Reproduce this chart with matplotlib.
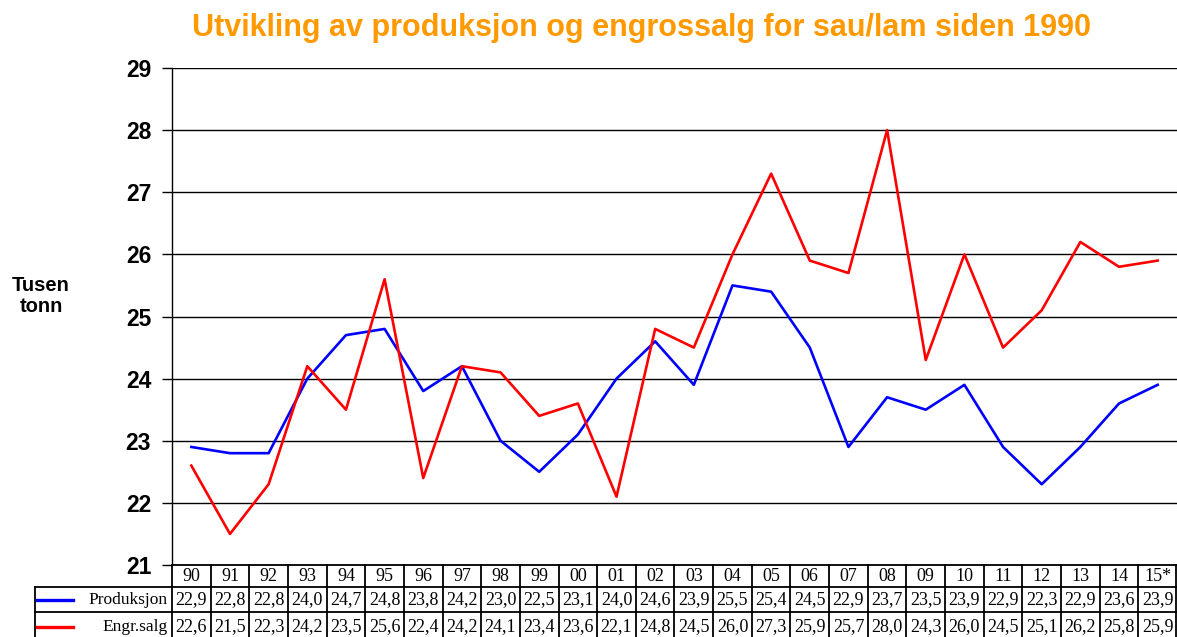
import numpy as np
import matplotlib.pyplot as plt
from matplotlib.lines import Line2D

years = ['90', '91', '92', '93', '94', '95', '96', '97', '98', '99', '00', '01', '02',
         '03', '04', '05', '06', '07', '08', '09', '10', '11', '12', '13', '14', '15*']
produksjon = [22.9, 22.8, 22.8, 24.0, 24.7, 24.8, 23.8, 24.2, 23.0, 22.5, 23.1, 24.0, 24.6,
              23.9, 25.5, 25.4, 24.5, 22.9, 23.7, 23.5, 23.9, 22.9, 22.3, 22.9, 23.6, 23.9]
engrsalg = [22.6, 21.5, 22.3, 24.2, 23.5, 25.6, 22.4, 24.2, 24.1, 23.4, 23.6, 22.1, 24.8,
            24.5, 26.0, 27.3, 25.9, 25.7, 28.0, 24.3, 26.0, 24.5, 25.1, 26.2, 25.8, 25.9]
series_names = ['Produksjon', 'Engr.salg']
colors = ['#0000FF', '#FF0000']

W, H = 1177, 637
fig = plt.figure(figsize=(W / 100, H / 100), dpi=100)
ax_l, ax_r, ax_t, ax_b = 172, 1177, 68, 565
ax = fig.add_axes([ax_l / W, 1 - ax_b / H, (ax_r - ax_l) / W, (ax_b - ax_t) / H])


def fx(px):
    return px / W


def fy(py):
    return 1 - py / H


x = np.arange(len(years))
for vals, c in zip([produksjon, engrsalg], colors):
    ax.plot(x, vals, color=c, lw=1.9)

ax.set_xlim(-0.5, len(years) - 0.5)
ax.set_ylim(21, 29)
ax.set_yticks(range(21, 30))
ax.yaxis.grid(True, color='black', lw=1.0)
ax.set_axisbelow(True)
ax.set_xticks([])
for s in ['top', 'right', 'bottom']:
    ax.spines[s].set_visible(False)
ax.spines['left'].set_linewidth(1.0)
ax.tick_params(axis='y', length=7, width=1.0, pad=8)
for lab in ax.get_yticklabels():
    lab.set_fontfamily('Liberation Sans')
    lab.set_fontweight('bold')
    lab.set_fontsize(16.5)

fig.text(fx(41), fy(296), 'Tusen\ntonn', ha='center', va='center',
         fontsize=14.5, fontweight='bold', family='Liberation Sans', linespacing=1.15)
fig.text(fx(641), fy(28), 'Utvikling av produksjon og engrossalg for sau/lam siden 1990',
         ha='center', va='center', fontsize=22, fontweight='bold',
         color='#FF9900', family='Liberation Sans')

# data table below the plot (drawn by hand, in pixel positions)
col_w = (ax_r - ax_l) / len(years)
y_lines = [565, 587, 612, 645]
y_centers = [576.5, 600, 627]
lab_left = 35

def hline(y, x0, x1):
    fig.add_artist(Line2D([fx(x0), fx(x1)], [fy(y), fy(y)], color='black', lw=1.3))

def vline(xp, y0, y1):
    fig.add_artist(Line2D([fx(xp), fx(xp)], [fy(y0), fy(y1)], color='black', lw=1.3))

hline(y_lines[0], ax_l, ax_r)
for yl in y_lines[1:]:
    hline(yl, lab_left, ax_r)
vline(lab_left, y_lines[1], y_lines[-1])
for j in range(len(years) + 1):
    vline(min(ax_l + j * col_w, ax_r - 1), y_lines[0], y_lines[-1])

tfont = dict(family='Liberation Serif', fontsize=13, ha='center', va='center')
for j, yr in enumerate(years):
    fig.text(fx(ax_l + (j + 0.5) * col_w), fy(y_centers[0]), yr, **tfont)
for i, (name, vals, c) in enumerate(zip(series_names, [produksjon, engrsalg], colors)):
    yc = y_centers[i + 1]
    fig.add_artist(Line2D([fx(37), fx(73)], [fy(yc), fy(yc)], color=c, lw=2.4))
    fig.text(fx(168), fy(yc), name, family='Liberation Serif', fontsize=12.5,
             ha='right', va='center')
    for j, v in enumerate(vals):
        fig.text(fx(ax_l + (j + 0.5) * col_w), fy(yc), ('%.1f' % v).replace('.', ','), **tfont)

fig.savefig('out.png', dpi=100)
